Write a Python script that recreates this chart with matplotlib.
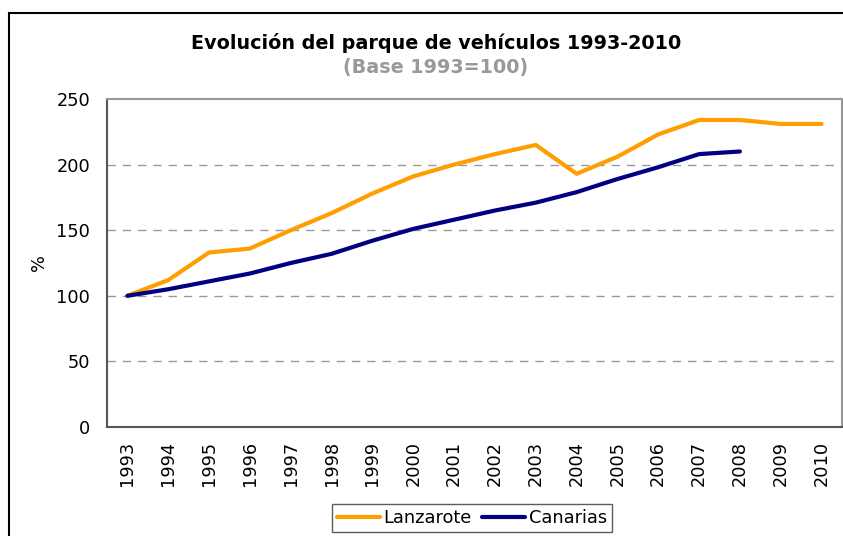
import matplotlib.pyplot as plt
from matplotlib.patches import Rectangle

years = [str(y) for y in range(1993, 2011)]
lanzarote = [100, 112, 133, 136, 150, 163, 178, 191, 200, 208, 215, 193, 206, 223, 234, 234, 231, 231]
canarias = [100, 105, 111, 117, 125, 132, 142, 151, 158, 165, 171, 179, 189, 198, 208, 210]

fig = plt.figure(figsize=(8.43, 5.36), dpi=100)
ax = fig.add_axes([107 / 843, 109 / 536, 735 / 843, 328 / 536])

# Chart frame (runs off the right and bottom edges)
fig.patches.append(Rectangle((9 / 843, -0.1), 1.2, 1.1 - 13 / 536,
                             transform=fig.transFigure, fill=False,
                             edgecolor="black", linewidth=1.5, clip_on=False))

x = list(range(len(years)))
ax.plot(x, lanzarote, color="#FF9E00", linewidth=3, label="Lanzarote",
        solid_capstyle="round", solid_joinstyle="round")
ax.plot(x[:len(canarias)], canarias, color="#000080", linewidth=3, label="Canarias",
        solid_capstyle="round", solid_joinstyle="round")

ax.set_xlim(-0.5, len(years) - 0.5)
ax.set_ylim(0, 250)
ax.set_yticks([0, 50, 100, 150, 200, 250])
ax.set_xticks(x)
ax.set_xticklabels(years, rotation=90)
ax.tick_params(length=0, labelsize=12.8, pad=10)
ax.tick_params(axis="y", pad=12)

for v in [50, 100, 150, 200]:
    ax.axhline(v, color="#999999", linewidth=1, linestyle=(0, (6, 5)), zorder=0)

for side in ["top", "right"]:
    ax.spines[side].set_color("#999999")
    ax.spines[side].set_linewidth(1.5)
for side in ["left", "bottom"]:
    ax.spines[side].set_color("#555555")
    ax.spines[side].set_linewidth(1.5)

ax.set_ylabel("%", fontsize=12.8, labelpad=6)

fig.text(0.517, 1 - 43 / 536, "Evolución del parque de vehículos 1993-2010",
         ha="center", va="center", fontsize=13.8, fontweight="bold")
fig.text(0.517, 1 - 67 / 536, "(Base 1993=100)", ha="center", va="center",
         fontsize=13.8, fontweight="bold", color="#999999")

leg = fig.legend(loc="center", bbox_to_anchor=(472 / 843, 1 - 518 / 536), ncol=2,
                 fontsize=12.8, frameon=True, fancybox=False, handlelength=2.4,
                 handletextpad=0.2, columnspacing=0.6, borderpad=0.3)
leg.get_frame().set_edgecolor("#333333")
leg.get_frame().set_linewidth(1)

fig.savefig("out.png", dpi=100)
